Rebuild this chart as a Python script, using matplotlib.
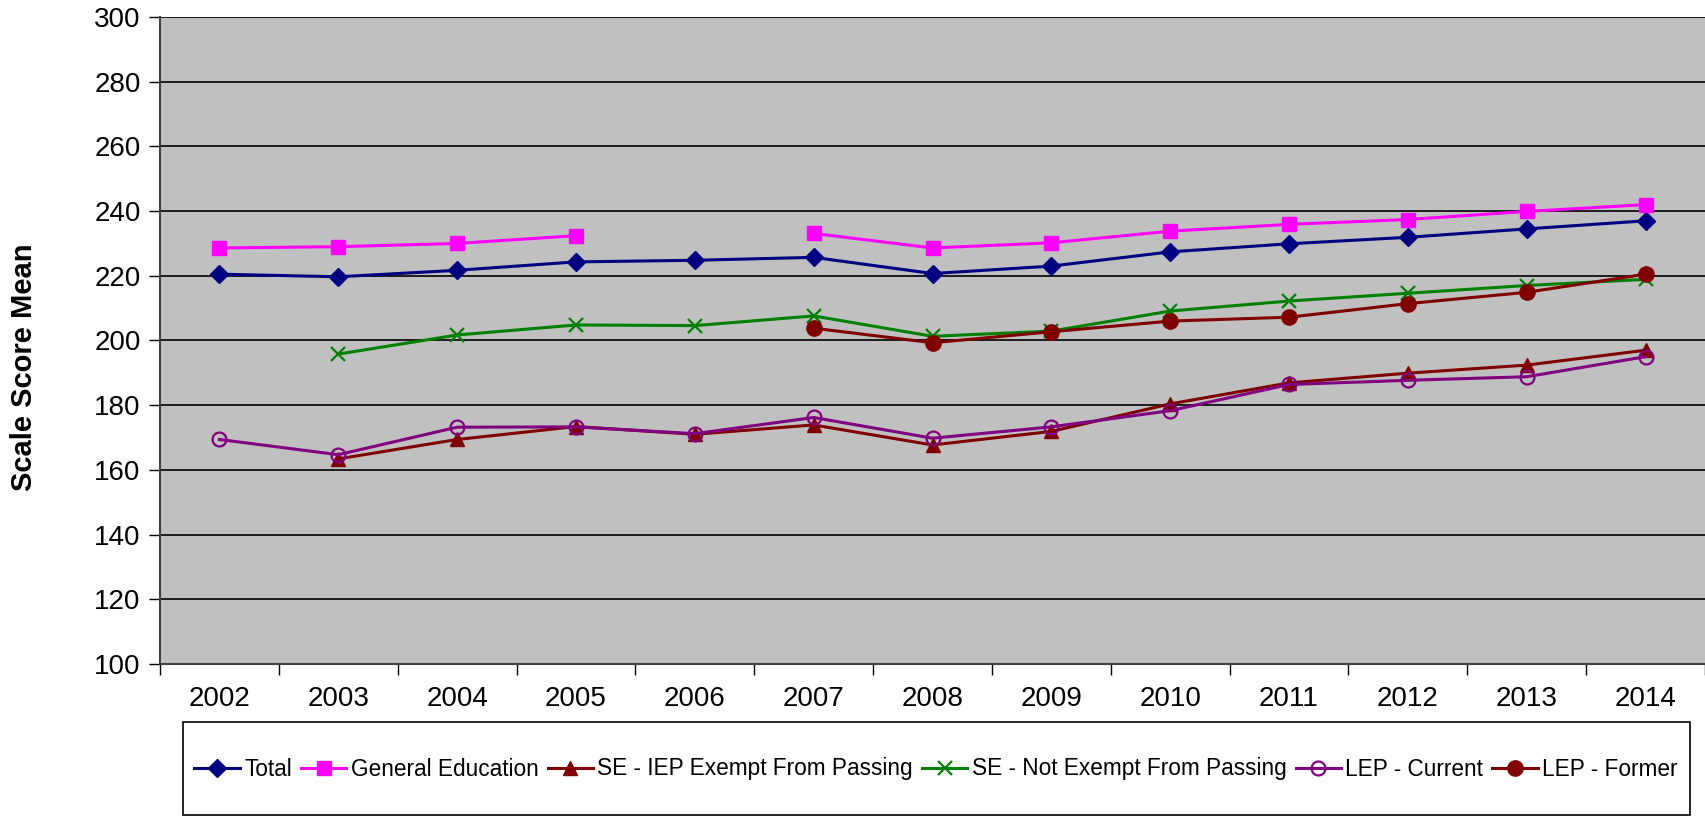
import matplotlib.pyplot as plt
from matplotlib.patches import Rectangle
import numpy as np

plt.rcParams['font.family'] = ['Liberation Sans', 'DejaVu Sans']

years = ['2002', '2003', '2004', '2005', '2006', '2007', '2008',
         '2009', '2010', '2011', '2012', '2013', '2014']
nan = np.nan

total = [220.5, 219.7, 221.7, 224.3, 224.8, 225.7, 220.7, 223.0, 227.4, 229.9, 231.9, 234.5, 237.0]
gen_ed = [228.6, 229.0, 230.0, 232.4, nan, 233.1, 228.6, 230.2, 233.8, 235.9, 237.4, 239.9, 242.0]
iep_exempt = [nan, 163.4, 169.4, 173.4, 171.0, 173.9, 167.7, 171.9, 180.4, 186.9, 189.9, 192.4, 197.0]
not_exempt = [nan, 195.8, 201.7, 204.8, 204.6, 207.6, 201.3, 202.9, 209.1, 212.2, 214.6, 217.0, 218.9]
lep_current = [169.4, 164.7, 173.2, 173.3, 171.2, 176.2, 169.8, 173.3, 178.3, 186.4, 187.7, 188.8, 195.0]
lep_former = [nan, nan, nan, nan, nan, 203.8, 199.3, 202.7, 206.0, 207.2, 211.4, 214.9, 220.5]

W, H = 1705, 817
fig = plt.figure(figsize=(W / 100, H / 100), dpi=100)
ax = fig.add_axes([160 / W, (H - 664) / H, 1545 / W, 647 / H])
ax.set_facecolor('#c0c0c0')

x = np.arange(len(years))
lw = 2.2
ax.plot(x, total, color='#000080', lw=lw, marker='D', ms=9, label='Total')
ax.plot(x, gen_ed, color='#ff00ff', lw=lw, marker='s', ms=10, label='General Education')
ax.plot(x, iep_exempt, color='#800000', lw=lw, marker='^', ms=10, label='SE - IEP Exempt From Passing')
ax.plot(x, not_exempt, color='#008000', lw=lw, marker='x', ms=10, mew=1.6, label='SE - Not Exempt From Passing')
ax.plot(x, lep_current, color='#800080', lw=lw, marker='o', ms=10, mfc='none', mew=1.6, label='LEP - Current')
ax.plot(x, lep_former, color='#800000', lw=lw, marker='o', ms=11, label='LEP - Former')

ax.set_xlim(-0.5, len(years) - 0.5)
ax.set_ylim(100, 300)
ax.set_yticks(range(100, 301, 20))
ax.set_xticks(x)
ax.set_xticklabels(years)
ax.set_xticks(np.arange(-0.5, len(years)), minor=True)
ax.tick_params(axis='x', which='major', length=0, pad=16, labelsize=20)
ax.tick_params(axis='x', which='minor', length=8, width=1, direction='out')
ax.tick_params(axis='y', length=8, width=1, direction='out', labelsize=20, pad=6)
ax.grid(axis='y', color='black', lw=1.2)
ax.set_axisbelow(True)
for s in ['top', 'right']:
    ax.spines[s].set_visible(False)
ax.spines['left'].set_color('#404040')
ax.spines['bottom'].set_color('#404040')
ax.spines['left'].set_linewidth(1.5)
ax.spines['bottom'].set_linewidth(1.5)

fig.text(24 / W, (H - 367) / H, 'Scale Score Mean', rotation=90, fontsize=21,
         fontweight='bold', ha='center', va='center')

# legend box
fig.patches.append(Rectangle((183 / W, 2 / H), 1507 / W, 93 / H, transform=fig.transFigure,
                             facecolor='white', edgecolor='black', lw=1.2))
fig.legend(loc='center', bbox_to_anchor=(936 / W, (H - 769) / H), ncol=6, frameon=False,
           fontsize=16.3, handlelength=2.0, handletextpad=0.2, columnspacing=0.4)

plt.savefig('out.png', dpi=100)
